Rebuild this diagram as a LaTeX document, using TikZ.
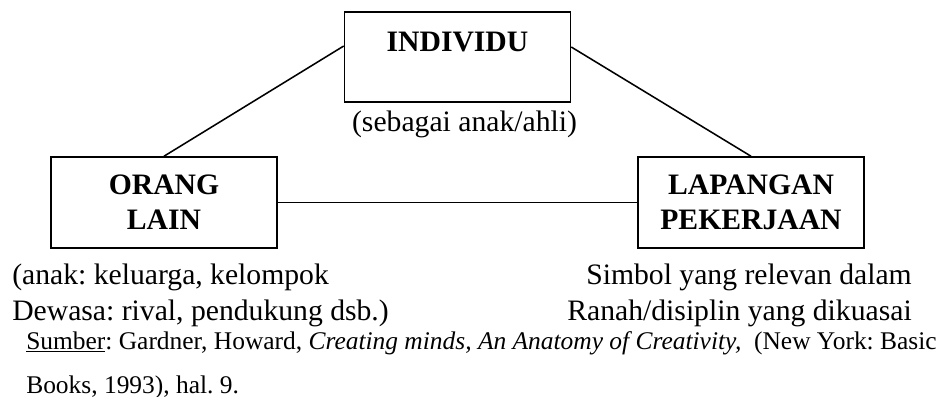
\documentclass[tikz,border=0pt]{standalone}
\usepackage{fontspec}
\setmainfont{Liberation Serif}
\frenchspacing

\begin{document}
\begin{tikzpicture}[
box/.style={draw, line width=1.1pt, minimum width=5.65cm, minimum height=2.25cm, inner sep=0pt,
  align=center, font=\fontsize{21.1}{24.9}\selectfont\bfseries},
txt/.style={font=\fontsize{21.1}{25.5}\selectfont, inner sep=0pt},
src/.style={font=\fontsize{18.1}{22}\selectfont, inner sep=0pt}]
\useasboundingbox (0,0) rectangle (23.8,-9.925);
\def\ly{-7.1}

% boxes
\node[box, text depth=0.75cm] (ind) at (11.4375,-1.425) {INDIVIDU};
\node[box, minimum height=2.275cm] (org) at (4.1,-5.0625) {ORANG\\LAIN};
\node[box, minimum height=2.275cm] (lap) at (18.775,-5.0625) {LAPANGAN\\PEKERJAAN};

% lines
\draw[line width=1.1pt] ([yshift=0.275cm]ind.west) -- (org.north);
\draw[line width=1.1pt] ([yshift=0.25cm]ind.east) -- (lap.north);
\draw[line width=1.1pt] (org.east) -- (lap.west);

% notes
\node[txt, anchor=base] (indnote) at (11.6125,-3.275) {(sebagai anak/ahli)};
\node[txt, anchor=base west] (orgnote1) at (0.3,\ly) {(anak: keluarga, kelompok};
\node[txt, anchor=base west] (orgnote2) at (0.3,\ly-0.9) {Dewasa: rival, pendukung dsb.)};
\node[txt, anchor=base east] (lapnote1) at (22.8,\ly) {Simbol yang relevan dalam};
\node[txt, anchor=base east] (lapnote2) at (22.8,\ly-0.9) {Ranah/disiplin yang dikuasai};

% source
\node[src, anchor=base west] (src1) at (0.65,-8.725) {\underline{Sumber}: Gardner, Howard, \textit{Creating minds, An Anatomy of Creativity,}\ \ (New York: Basic};
\node[src, anchor=base west] (src2) at (0.65,-9.825) {Books, 1993), hal. 9.};
\end{tikzpicture}
\end{document}
